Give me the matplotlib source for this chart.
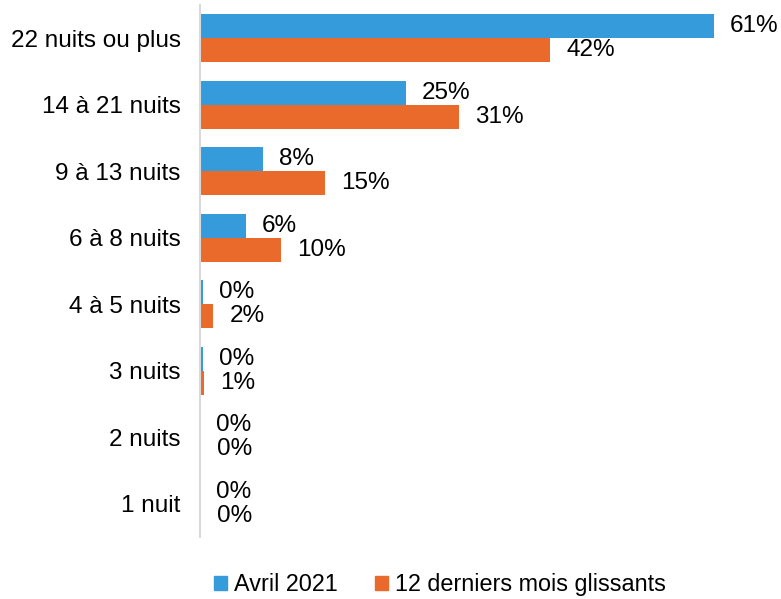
import matplotlib.pyplot as plt
from matplotlib.patches import Patch

plt.rcParams['font.family'] = ['Liberation Sans', 'DejaVu Sans']

categories = ['22 nuits ou plus', '14 à 21 nuits', '9 à 13 nuits', '6 à 8 nuits',
              '4 à 5 nuits', '3 nuits', '2 nuits', '1 nuit']
avril = [61.5, 24.6, 7.5, 5.5, 0.3, 0.3, 0.0, 0.0]
glissants = [41.9, 31.0, 15.0, 9.7, 1.6, 0.5, 0.1, 0.1]
avril_labels = ['61%', '25%', '8%', '6%', '0%', '0%', '0%', '0%']
glissants_labels = ['42%', '31%', '15%', '10%', '2%', '1%', '0%', '0%']
series_names = ['Avril 2021', '12 derniers mois glissants']

blue = '#359BDB'
orange = '#E96A2B'
fs = 17.5

fig = plt.figure(figsize=(7.81, 5.99), dpi=100)
ax = fig.add_axes([200 / 781, 62 / 599, 560 / 781, 532 / 599])

n = len(categories)
ys = [n - 1 - i for i in range(n)]
h = 0.36
ax.barh([y + h / 2 for y in ys], avril, height=h, color=blue)
ax.barh([y - h / 2 for y in ys], glissants, height=h, color=orange)

for y, v, lab in zip(ys, avril, avril_labels):
    ax.annotate(lab, (v, y + h / 2), xytext=(16, 0), textcoords='offset pixels',
                va='center', ha='left', fontsize=fs)
for y, v, lab in zip(ys, glissants, glissants_labels):
    ax.annotate(lab, (v, y - h / 2), xytext=(16, 0), textcoords='offset pixels',
                va='center', ha='left', fontsize=fs)

ax.set_xlim(0, 67)
ax.set_ylim(-0.5, n - 0.5)
ax.set_yticks(ys)
ax.set_yticklabels(categories, fontsize=fs)
ax.tick_params(axis='y', length=0, pad=14)
ax.set_xticks([])
for s in ['top', 'right', 'bottom']:
    ax.spines[s].set_visible(False)
ax.spines['left'].set_color('#d9d9d9')
ax.spines['left'].set_linewidth(1.5)

handles = [Patch(color=blue), Patch(color=orange)]
fig.legend(handles, series_names, loc='center', bbox_to_anchor=(0.563, 0.024),
           ncol=2, frameon=False, fontsize=16.8, handlelength=0.55, handleheight=0.55,
           handletextpad=0.3, columnspacing=1.6)

fig.savefig('out.png', dpi=100)
